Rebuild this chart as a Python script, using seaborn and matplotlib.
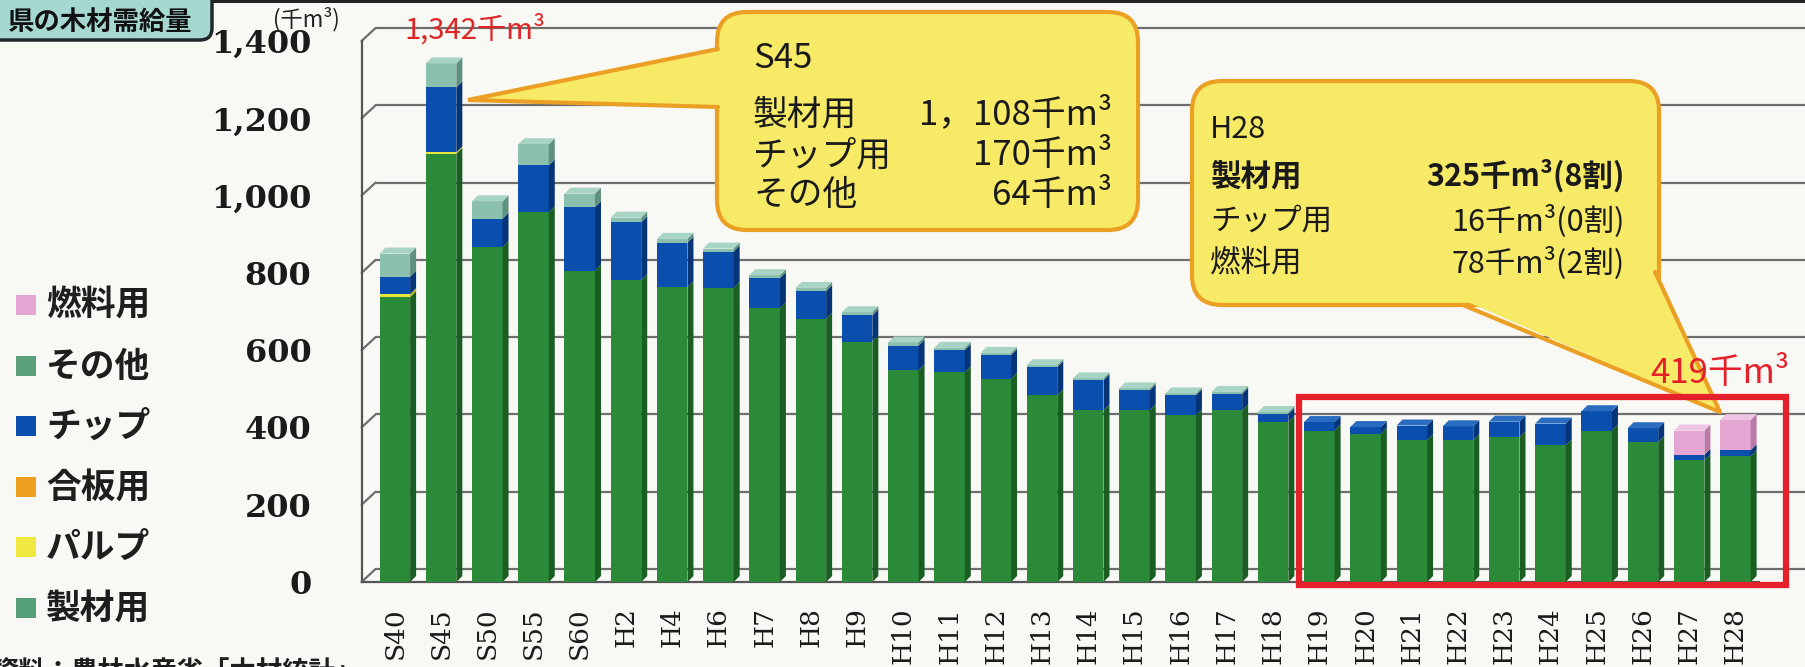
import numpy as np
import pandas as pd
import matplotlib
matplotlib.use("Agg")
import matplotlib.pyplot as plt
import seaborn as sns
from matplotlib.patches import Polygon, FancyBboxPatch, Rectangle

# ---------------- data ----------------
years = ["S40", "S45", "S50", "S55", "S60", "H2", "H4", "H6", "H7", "H8",
         "H9", "H10", "H11", "H12", "H13", "H14", "H15", "H16", "H17", "H18",
         "H19", "H20", "H21", "H22", "H23", "H24", "H25", "H26", "H27", "H28"]
sawmill = [737, 1108, 867, 957, 806, 781, 763, 761, 708, 681,
           622, 548, 543, 526, 483, 444, 444, 431, 444, 414,
           392, 384, 367, 367, 375, 354, 392, 362, 315, 325]
pulp = [8, 4, 0, 0, 0, 0, 0, 0, 0, 0,
        0, 0, 0, 0, 0, 0, 0, 0, 0, 0,
        0, 0, 0, 0, 0, 0, 0, 0, 0, 0]
plywood = [0] * 30
chip = [45, 168, 73, 121, 164, 150, 115, 94, 78, 72,
        68, 64, 57, 61, 73, 78, 52, 52, 43, 21,
        22, 17, 38, 36, 40, 56, 50, 36, 14, 16]
other = [60, 62, 45, 55, 35, 12, 10, 8, 8, 8,
         8, 8, 6, 6, 5, 5, 5, 5, 5, 5,
         0, 0, 0, 0, 0, 0, 0, 0, 0, 0]
fuel = [0] * 28 + [63, 78]

legend_labels = ["燃料用", "その他", "チップ", "合板用", "パルプ", "製材用"]
yticks = [0, 200, 400, 600, 800, 1000, 1200, 1400]
ytick_labels = ["0", "200", "400", "600", "800", "1,000", "1,200", "1,400"]

# ---------------- style ----------------
BG = "#f8f8f4"
C_SAW, C_SAW_S = "#2b8a37", "#1b5e24"
C_PULP, C_PULP_S = "#e8e63a", "#b5b320"
C_PLY, C_PLY_S = "#f0a020", "#b07010"
C_CHIP, C_CHIP_S = "#0b4fae", "#063478"
C_OTH, C_OTH_S = "#8cc0ae", "#5f8f80"
C_FUEL, C_FUEL_S = "#e6a6d4", "#b97aa8"
CAP = {C_SAW: "#3aa048", C_PULP: "#f4f280", C_PLY: "#f8c060",
       C_CHIP: "#2a6cc0", C_OTH: "#a8d4c4", C_FUEL: "#f0c4e4"}
GRID = "#6e6e6e"
CJK = ["Noto Sans CJK JP", "DejaVu Sans"]

sns.set_style("white")
plt.rcParams["font.family"] = CJK

W, H = 1806, 667
fig = plt.figure(figsize=(W / 100, H / 100), dpi=100, facecolor=BG)
ax = fig.add_axes([0.2002, 0.1274, 0.774, 0.8111])
ax.set_facecolor("none")

layers = [(sawmill, C_SAW, C_SAW_S), (pulp, C_PULP, C_PULP_S),
          (plywood, C_PLY, C_PLY_S), (chip, C_CHIP, C_CHIP_S),
          (other, C_OTH, C_OTH_S), (fuel, C_FUEL, C_FUEL_S)]
vals = np.array([l[0] for l in layers], dtype=float)
cum = np.cumsum(vals, axis=0)

df = pd.DataFrame({"year": years})
first_patches = None
for k in reversed(range(len(layers))):
    n0 = len(ax.patches)
    df["v"] = cum[k]
    sns.barplot(data=df, x="year", y="v", color=layers[k][1], width=0.66,
                saturation=1, errorbar=None, linewidth=0, ax=ax, zorder=3)
    if first_patches is None:
        first_patches = ax.patches[n0:n0 + len(years)]

ax.set_xlim(-0.72, 29.52)
ax.set_ylim(0, 1400)

# pixel -> data conversions
ax_w_px = 0.774 * W
ax_h_px = 0.8111 * H
px_x = ax_w_px / (29.52 + 0.72)
px_y = ax_h_px / 1400.0
dx = 6 / px_x
dy = 6 / px_y

# 3D side faces and caps
for i, p in enumerate(first_patches):
    x0 = p.get_x()
    xr = x0 + p.get_width()
    prev = 0.0
    top_col = None
    for k in range(len(layers)):
        y1 = cum[k][i]
        if y1 - prev <= 0:
            continue
        ax.add_patch(Polygon([(xr, prev), (xr + dx, prev + dy), (xr + dx, y1 + dy), (xr, y1)],
                             closed=True, fc=layers[k][2], ec="none", zorder=3))
        top_col = layers[k][1]
        prev = y1
    T = cum[-1][i]
    ax.add_patch(Polygon([(x0, T), (x0 + dx, T + dy), (xr + dx, T + dy), (xr, T)],
                         closed=True, fc=CAP[top_col], ec="none", zorder=3))

# back gridlines with slanted connectors
gdx = 14 / ax_w_px
gdy = 13 / px_y
ytr = ax.get_yaxis_transform()
for v in yticks:
    ax.plot([0, gdx], [v, v + gdy], color=GRID, lw=1.6, transform=ytr, clip_on=False, zorder=1)
    ax.plot([gdx, 1.035], [v + gdy, v + gdy], color=GRID, lw=1.6, transform=ytr, clip_on=False, zorder=1)

# axes
for s in ["top", "right"]:
    ax.spines[s].set_visible(False)
for s in ["left", "bottom"]:
    ax.spines[s].set_color("#555555")
    ax.spines[s].set_linewidth(1.6)
ax.set_yticks(yticks)
ax.set_yticklabels(ytick_labels, fontfamily="DejaVu Serif", fontweight="bold",
                   fontsize=23, color="#1a1a1a")
ax.tick_params(axis="y", length=12, width=1.6, color="#555555", direction="out", pad=24)
ax.set_xticks(range(len(years)))
ax.set_xticklabels(years, rotation=90, fontfamily="DejaVu Serif", fontsize=19, color="#1a1a1a")
ax.set_xticks(np.arange(-0.5, 29.6, 1), minor=True)
ax.tick_params(axis="x", which="major", length=0, pad=18)
ax.tick_params(axis="x", which="minor", length=10, width=1.4, color="#555555", direction="out")
ax.set_xlabel("")
ax.set_ylabel("")

# ---------------- overlay decorations ----------------
ov = fig.add_axes([0, 0, 1, 1], zorder=5)
ov.set_xlim(0, W)
ov.set_ylim(H, 0)
ov.axis("off")
ov.patch.set_alpha(0)

# top dark band
ov.add_patch(Rectangle((200, 0), W - 200, 3, fc="#222222", ec="none"))
# title box
ov.add_patch(FancyBboxPatch((-20, -20), 232, 60, boxstyle="round,pad=0,rounding_size=12",
                            fc="#a6d8d2", ec="#1e2828", lw=2.5))
ov.text(192, 22, "県の木材需給量", ha="right", va="center", fontsize=19,
        fontweight="bold", color="#111111", family=CJK)
# unit
ov.text(306, 19, "(千m³)", ha="center", va="center", fontsize=16, color="#222222", family=CJK)
# peak label
ov.text(475, 30, "1,342千m³", ha="center", va="center", fontsize=21, color="#e02525", family=CJK)

YEL, ORG = "#f7ea66", "#eba024"
# callout S45
ov.add_patch(FancyBboxPatch((717, 12), 421, 218, boxstyle="round,pad=0,rounding_size=30",
                            fc=YEL, ec=ORG, lw=3, zorder=2))
ov.add_patch(Polygon([(724, 50), (468, 100), (724, 106)], closed=True, fc=YEL, ec="none", zorder=3))
ov.plot([718, 468, 718], [49, 100, 107], color=ORG, lw=3, zorder=4, solid_joinstyle="miter")
s45_lines = [("S45", "", 58), ("製材用", "1，108千m³", 115), ("チップ用", "170千m³", 156), ("その他", "64千m³", 196)]
for lab, val, y in s45_lines:
    ov.text(753, y, lab, ha="left", va="center", fontsize=25, color="#1a1a1a", family=CJK, zorder=5)
    if val:
        ov.text(1112, y, val, ha="right", va="center", fontsize=25, color="#1a1a1a", family=CJK, zorder=5)

# callout H28
ov.add_patch(FancyBboxPatch((1192, 81), 467, 224, boxstyle="round,pad=0,rounding_size=30",
                            fc=YEL, ec=ORG, lw=3, zorder=2))
ov.add_patch(Polygon([(1463, 300), (1720, 412), (1652, 268), (1640, 300)], closed=True,
                     fc=YEL, ec="none", zorder=3))
ov.plot([1463, 1720, 1655], [305, 412, 272], color=ORG, lw=3, zorder=4)
h28_lines = [("H28", "", 130, "normal"), ("製材用", "325千m³(8割)", 176, "bold"),
             ("チップ用", "16千m³(0割)", 221, "normal"), ("燃料用", "78千m³(2割)", 263, "normal")]
for lab, val, y, wt in h28_lines:
    ov.text(1210, y, lab, ha="left", va="center", fontsize=22, fontweight=wt,
            color="#1a1a1a", family=CJK, zorder=5)
    if val:
        ov.text(1625, y, val, ha="right", va="center", fontsize=22, fontweight=wt,
                color="#1a1a1a", family=CJK, zorder=5)

# red frame + total label
ov.add_patch(Rectangle((1299, 397), 487, 188, fc="none", ec="#e5202a", lw=4.5, zorder=6))
ov.text(1720, 374, "419千m³", ha="center", va="center", fontsize=25, color="#e5202a",
        family=CJK, zorder=6)

# legend
leg_cols = [C_FUEL, "#5aa07a", C_CHIP, C_PLY, "#eee840", "#55a078"]
leg_y = [305, 366, 426, 487, 547, 608]
for lab, col, y in zip(legend_labels, leg_cols, leg_y):
    ov.add_patch(Rectangle((16, y - 10), 20, 20, fc=col, ec="none"))
    ov.text(46, y, lab, ha="left", va="center", fontsize=25, fontweight="bold",
            color="#1e1e1e", family=CJK)

# source (cut at the bottom edge, as in the reference)
ov.text(-8, 660, "資料：農林水産省「木材統計」", ha="left", va="top", fontsize=19,
        fontweight="bold", color="#1e1e1e", family=CJK)

fig.savefig("out.png", dpi=100, facecolor=BG)
